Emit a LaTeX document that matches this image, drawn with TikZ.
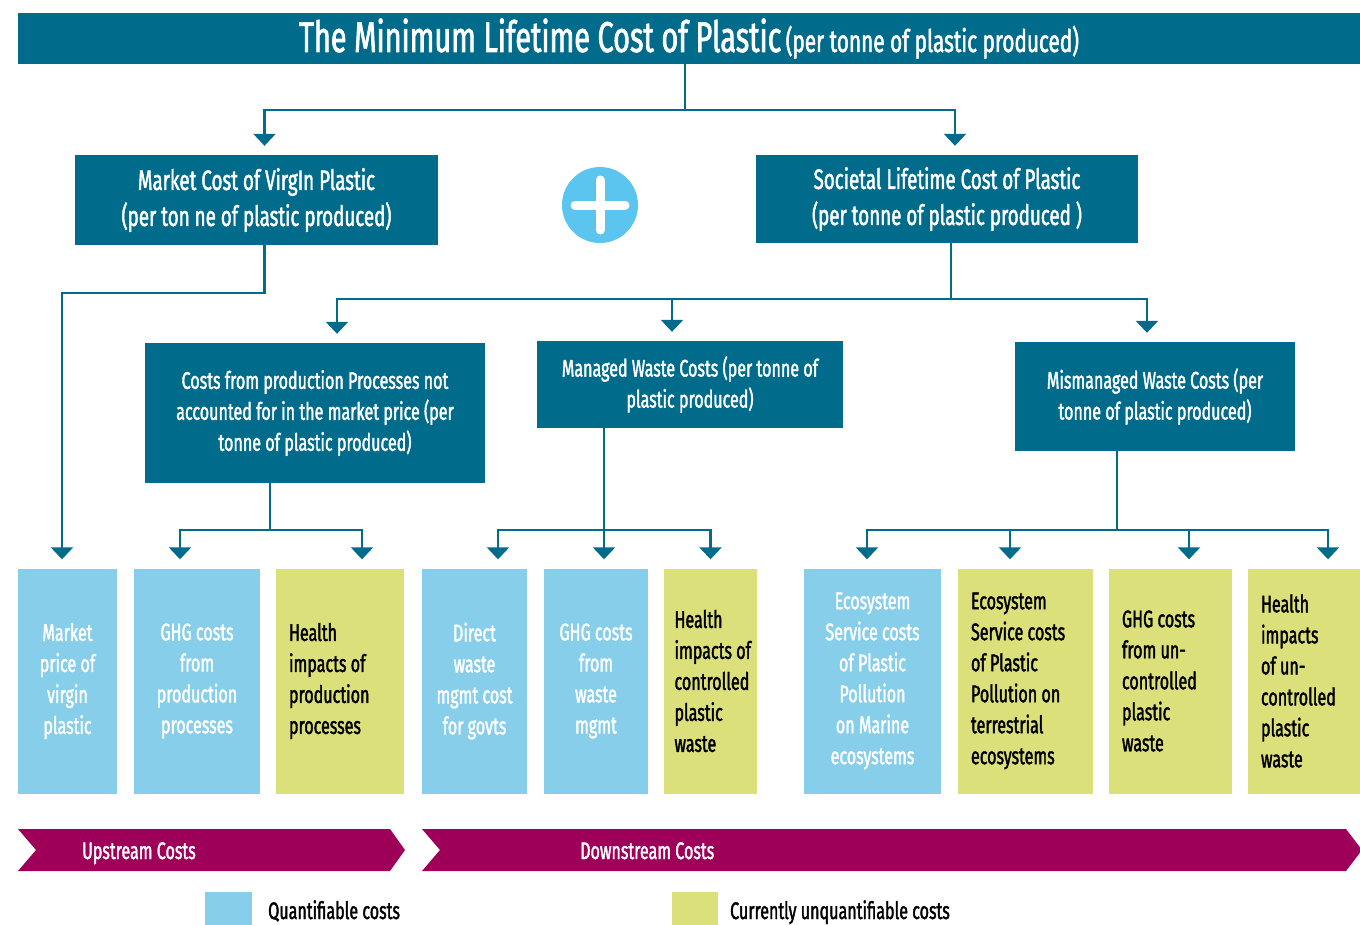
\documentclass[tikz,border=0pt]{standalone}
\usepackage{fontspec}
\setmainfont{Fira Sans}[FakeStretch=0.67, FakeBold=1.6]
\usepackage{xcolor}
\usetikzlibrary{arrows.meta, positioning}
\definecolor{hdrteal}{HTML}{006B8B}
\definecolor{qblue}{HTML}{87CEEB}
\definecolor{uyellow}{HTML}{DCE07A}
\definecolor{bannerred}{HTML}{9E0059}
\definecolor{plusblue}{HTML}{5BC5F0}

\begin{document}
\begin{tikzpicture}[x=1pt, y=-1pt, >={Triangle[width=22pt,length=12pt]},
    every node/.style={font=\fontsize{24}{31}\selectfont},
    hdr/.style={fill=hdrteal, text=white, align=center, inner sep=0pt},
    link/.style={draw=hdrteal, line width=2.5pt},
    arr/.style={link, ->, shorten >=9pt},
    cbox/.style={minimum height=225pt, inner xsep=13pt, inner ysep=0pt},
    qbox/.style={cbox, fill=qblue, text=white, align=flush center},
    ubox/.style={cbox, fill=uyellow, text=black, align=flush left},
    bannertext/.style={text=white, inner sep=0pt, anchor=base west},
    keytext/.style={text=black, inner sep=0pt, anchor=base west}]

    \clip (0,0) rectangle (1360,924);

    % Title bar
    \node[hdr, minimum width=1342pt, minimum height=51pt] (title) at (689,38.5)
        {{\fontsize{43}{44}\selectfont The Minimum Lifetime Cost of Plastic}
         {\fontsize{31}{32}\selectfont (per tonne of plastic produced)}};

    % Market cost and societal cost
    \node[hdr, minimum width=363pt, minimum height=90pt,
        font=\fontsize{28}{36}\selectfont] (market) at (256.5,200)
        {Market Cost of VirgIn Plastic\\(per ton ne of plastic produced)};
    \node[hdr, minimum width=382pt, minimum height=88pt,
        font=\fontsize{28}{36}\selectfont] (societal) at (947,199)
        {Societal Lifetime Cost of Plastic\\(per tonne of plastic produced )};
    \node[circle, fill=plusblue, minimum size=76pt, inner sep=0pt] (plus) at (600,205) {};
    \draw[white, line width=9pt, line cap=round]
        ([xshift=-25pt]plus.center) -- ([xshift=25pt]plus.center)
        ([yshift=25pt]plus.center) -- ([yshift=-25pt]plus.center);

    % Societal cost split
    \node[hdr, minimum width=340pt, minimum height=140pt] (prod) at (315,413)
        {Costs from production Processes not\\accounted for in the market price (per\\tonne of plastic produced)};
    \node[hdr, minimum width=306pt, minimum height=87pt] (managed) at (690,384.5)
        {Managed Waste Costs (per tonne of\\plastic produced)};
    \node[hdr, minimum width=280pt, minimum height=109pt] (mismanaged) at (1155,396.5)
        {Mismanaged Waste Costs (per\\tonne of plastic produced)};

    % Cost items
    \node[qbox, text width=73pt] (b1) at (67.5,681) {Market\\price of\\virgin\\plastic};
    \node[qbox, text width=100pt] (b2) at (197,681) {GHG costs\\from\\production\\processes};
    \node[ubox, text width=102pt] (b3) at (340,681) {Health\\impacts of\\production\\processes};
    \node[qbox, text width=79pt] (b4) at (474.5,681) {Direct\\waste\\mgmt cost\\for govts};
    \node[qbox, text width=78pt] (b5) at (596,681) {GHG costs\\from\\waste\\mgmt};
    \node[ubox, text width=72pt, inner xsep=10.5pt] (b6) at (710.5,681) {Health\\\mbox{impacts of}\\controlled\\plastic\\waste};
    \node[qbox, text width=111pt] (b7) at (872.5,681) {Ecosystem\\Service costs\\of Plastic\\Pollution\\on Marine\\ecosystems};
    \node[ubox, text width=109pt] (b8) at (1025.5,681) {Ecosystem\\Service costs\\of Plastic\\Pollution on\\terrestrial\\ecosystems};
    \node[ubox, text width=97pt] (b9) at (1170.5,681) {GHG costs\\from un-\\controlled\\plastic\\waste};
    \node[ubox, text width=86pt] (b10) at (1304,681) {Health\\impacts\\of un-\\controlled\\plastic\\waste};

    % Connectors
    \draw[link] ([xshift=-4pt]title.south) -- ++(0,46) coordinate (tbus);
    \draw[arr] (tbus) -| ([xshift=8pt]market.north);
    \draw[arr] (tbus) -| ([xshift=8pt]societal.north);

    \draw[arr] ([xshift=8pt]market.south) -- ++(0,48) -| ([xshift=-5.5pt]b1.north);

    \draw[link] ([xshift=4pt]societal.south) -- ++(0,56) coordinate (sbus);
    \draw[arr] (sbus) -| ([xshift=22pt]prod.north);
    \draw[arr] (sbus) -| ([xshift=-18pt]managed.north);
    \draw[arr] (sbus) -| ([xshift=-8pt]mismanaged.north);

    \draw[link] ([xshift=-45pt]prod.south) -- ++(0,47) coordinate (pbus);
    \draw[arr] (pbus) -| ([xshift=-17pt]b2.north);
    \draw[arr] (pbus) -| ([xshift=22pt]b3.north);

    \draw[arr] ([xshift=-86pt]managed.south) -- ([xshift=8pt]b5.north);
    \path ([xshift=-86pt]managed.south) ++(0,102) coordinate (mbus);
    \draw[arr] (mbus) -| ([xshift=23.5pt]b4.north);
    \draw[arr] (mbus) -| (b6.north);

    \draw[link] ([xshift=-38pt]mismanaged.south) -- ++(0,79) coordinate (xbus);
    \draw[arr] (xbus) -| ([xshift=-5.5pt]b7.north);
    \draw[arr] (xbus) -| ([xshift=-15.5pt]b8.north);
    \draw[arr] (xbus) -| ([xshift=18.5pt]b9.north);
    \draw[arr] (xbus) -| ([xshift=24pt]b10.north);

    % Upstream / downstream banners
    \fill[bannerred] (18,829) -- (390,829) -- (405,850) -- (390,871) -- (18,871) -- (36,850) -- cycle;
    \fill[bannerred] (422,829) -- (1346,829) -- (1362,850) -- (1346,871) -- (422,871) -- (440,850) -- cycle;
    \node[bannertext] (up) at (82,859) {Upstream Costs};
    \node[bannertext] (down) at (580,859) {Downstream Costs};

    % Legend
    \node[fill=qblue, minimum width=47pt, minimum height=42pt, inner sep=0pt] (qkey) at (228.5,913) {};
    \node[keytext] (qlabel) at (268,919) {Quantifiable costs};
    \node[fill=uyellow, minimum width=46pt, minimum height=42pt, inner sep=0pt] (ukey) at (695,913) {};
    \node[keytext] (ulabel) at (730,919) {Currently unquantifiable costs};
\end{tikzpicture}
\end{document}
